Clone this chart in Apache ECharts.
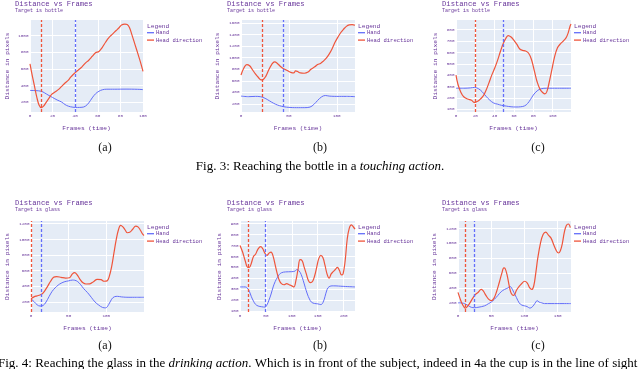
<!DOCTYPE html>
<html>
<head>
<meta charset="utf-8">
<script src="https://cdn.jsdelivr.net/npm/echarts@6/dist/echarts.min.js"></script>
<style>
  html, body { margin: 0; padding: 0; background: #fff; }
  #chart { width: 640px; height: 369px; }
</style>
</head>
<body>
<div id="chart"></div>
<script>
// --- data: [frame, distance] ---
const topAHand = [[0,340],[5,338],[10,330],[13,310],[16,285],[20,255],[24,225],[28,200],[31,170],[34,150],[38,138],[42,135],[46,137],[49,150],[52,190],[55,250],[58,300],[61,330],[64,348],[68,355],[75,355],[85,356],[95,354],[100,350]]
const topAHead = [[0,660],[2,520],[4,390],[6,260],[8,165],[10,132],[12,150],[14,190],[17,250],[19,290],[22,320],[25,350],[28,390],[31,430],[34,465],[36,500],[38,530],[40,555],[43,590],[46,625],[49,670],[52,705],[55,750],[58,795],[61,810],[64,860],[67,925],[70,980],[73,1020],[76,1060],[79,1100],[81,1130],[84,1140],[86,1135],[88,1100],[90,1020],[93,890],[96,760],[98,670],[100,570]]

const topBHand = [[0,335],[8,325],[15,330],[20,325],[24,305],[28,270],[32,230],[36,195],[40,170],[45,150],[50,140],[58,135],[66,135],[72,145],[76,190],[80,260],[84,320],[88,345],[92,335],[100,330],[110,330],[119,325]]
const topBHead = [[0,700],[3,820],[6,880],[9,860],[12,790],[15,720],[18,660],[21,615],[23,620],[26,680],[29,790],[32,880],[35,925],[38,900],[41,850],[44,810],[48,780],[52,745],[55,735],[57,770],[59,760],[62,735],[66,730],[70,750],[73,800],[77,840],[80,880],[83,900],[86,940],[89,990],[92,1060],[95,1150],[98,1260],[101,1350],[104,1430],[107,1490],[110,1540],[113,1565],[116,1570],[119,1560]]

const topCHand = [[0,285],[8,285],[15,288],[19,292],[23,282],[27,255],[31,215],[35,180],[39,155],[43,145],[47,135],[52,128],[57,122],[62,120],[67,122],[71,130],[74,150],[77,185],[80,225],[84,262],[88,280],[94,285],[105,285],[119,285]]
const topCHead = [[0,400],[2,320],[5,250],[8,210],[12,190],[16,180],[19,160],[21,165],[24,180],[28,215],[31,265],[34,330],[37,400],[40,460],[43,530],[46,610],[49,680],[52,730],[54,748],[57,735],[60,705],[63,670],[66,630],[69,618],[72,612],[75,595],[78,540],[81,440],[84,340],[87,275],[90,245],[92,235],[94,255],[96,320],[99,440],[102,560],[105,640],[108,675],[111,700],[114,730],[116,770],[118,830],[119,850]]

const botAHand = [[0,240],[4,205],[8,165],[12,148],[16,155],[20,200],[24,270],[28,335],[32,380],[36,415],[40,440],[45,460],[50,470],[55,480],[58,478],[62,460],[66,420],[70,370],[75,320],[80,260],[85,200],[90,160],[95,130],[99,125],[103,165],[107,235],[111,268],[115,272],[120,265],[130,260],[140,260],[150,260]]
const botAHead = [[0,240],[4,265],[8,278],[12,290],[15,305],[18,340],[22,400],[26,465],[30,515],[34,525],[40,515],[46,505],[51,510],[55,560],[58,575],[61,550],[65,490],[69,445],[73,430],[78,432],[83,460],[88,490],[93,485],[97,465],[101,470],[104,530],[107,650],[110,820],[113,990],[116,1120],[119,1180],[122,1160],[125,1120],[128,1085],[131,1090],[135,1130],[139,1170],[142,1160],[145,1120],[148,1070],[150,1050]]

const botBHand = [[0,320],[10,320],[14,310],[18,280],[22,230],[26,190],[30,160],[35,145],[42,138],[48,135],[52,155],[56,200],[60,255],[64,320],[68,370],[72,405],[76,435],[80,450],[88,458],[100,460],[106,465],[110,480],[114,468],[118,435],[122,380],[126,315],[130,255],[134,210],[138,180],[144,168],[150,165],[156,158],[160,175],[164,230],[168,295],[172,322],[180,330],[200,325],[222,320]]
const botBHead = [[0,700],[5,640],[10,560],[15,500],[18,500],[22,540],[26,600],[30,620],[35,670],[40,690],[44,670],[48,630],[52,610],[56,630],[60,640],[64,600],[68,520],[72,440],[76,380],[80,350],[85,340],[90,350],[95,340],[100,330],[104,320],[108,380],[112,480],[116,570],[120,560],[124,500],[128,440],[132,380],[136,360],[140,370],[144,420],[148,500],[152,580],[156,610],[160,590],[164,520],[168,440],[172,400],[176,440],[180,460],[184,480],[188,500],[192,470],[196,430],[199,440],[203,560],[207,760],[211,860],[215,890],[219,870],[222,850]]

const botCHand = [[0,200],[8,195],[12,180],[16,160],[20,140],[25,135],[30,140],[40,160],[46,190],[50,210],[55,250],[60,300],[65,350],[70,380],[75,400],[78,420],[80,410],[84,340],[88,270],[92,200],[96,170],[100,160],[104,150],[108,130],[111,140],[114,170],[117,210],[119,230],[122,210],[126,200],[130,190],[140,190],[150,190],[170,190]]
const botCHead = [[0,340],[3,260],[6,190],[9,145],[11,130],[14,150],[18,200],[22,260],[26,310],[30,340],[35,380],[38,360],[42,300],[46,250],[50,230],[54,260],[58,350],[62,470],[66,600],[69,670],[71,660],[74,570],[77,430],[80,330],[84,300],[88,370],[92,420],[96,460],[100,490],[104,470],[108,400],[111,380],[114,430],[117,600],[120,800],[124,1000],[128,1120],[132,1150],[136,1110],[140,1070],[144,980],[148,900],[151,870],[154,900],[157,1000],[160,1150],[163,1240],[166,1260],[169,1210]]

// frames where the dashed markers sit: [red, blue]
const markFrames = [[10, 40], [22, 44], [20, 49], [0, 14], [15, 48], [11, 24]]
const targets = ['bottle', 'bottle', 'bottle', 'glass', 'glass', 'glass']
const xTicks = [[0,20,40,60,80,100], [0,50,100], [0,20,40,60,80,100], [0,50,100], [0,50,100,150,200], [0,50,100,150]]
const yTicks = [[200,400,600,800,1000], [200,400,600,800,1000,1200,1400,1600], [100,200,300,400,500,600,700,800],
  [200,400,600,800,1000,1200], [100,200,300,400,500,600,700,800,900], [200,400,600,800,1000,1200]]
const xRanges = [[0,100], [0,119], [0,119], [0,150], [0,222], [0,170]]
const yRanges = [[80,1190], [60,1650], [76,885], [72,1235], [90,925], [77,1300]]
const handData = [topAHand, topBHand, topCHand, botAHand, botBHand, botCHand]
const headData = [topAHead, topBHead, topCHead, botAHead, botBHead, botCHead]

// layout of each panel
const panels = [
  { left: 30,  top: 20,  width: 113, height: 92, titleX: 15,  yGap: 20, legendX: 147 },
  { left: 241, top: 20,  width: 114, height: 92, titleX: 227, yGap: 21, legendX: 358 },
  { left: 456, top: 20,  width: 115, height: 92, titleX: 442, yGap: 18, legendX: 574 },
  { left: 31,  top: 221, width: 113, height: 91, titleX: 15,  yGap: 21, legendX: 147 },
  { left: 240, top: 221, width: 115, height: 91, titleX: 227, yGap: 18, legendX: 358 },
  { left: 458, top: 221, width: 113, height: 91, titleX: 442, yGap: 21, legendX: 574 },
]

const MONO = 'Liberation Mono, monospace'
const SERIF = 'Liberation Serif, serif'
const PURPLE = '#663399'
const HAND = '#636efa'
const HEAD = '#ef553b'

const chart = echarts.init(document.getElementById('chart'), null, { renderer: 'canvas' })

const grids = [], xAxes = [], yAxes = [], series = [], titles = [], legends = [], graphics = []
const plain = v => String(v)

panels.forEach((p, i) => {
  grids.push({
    left: p.left, top: p.top, width: p.width, height: p.height,
    show: true, backgroundColor: '#e5ecf6', borderWidth: 0,
  })
  xAxes.push({
    type: 'value', gridIndex: i, min: xRanges[i][0], max: xRanges[i][1],
    axisLine: { show: false },
    axisTick: { show: false, customValues: xTicks[i] },
    axisLabel: { customValues: xTicks[i], formatter: plain, fontSize: 4.3, color: PURPLE, fontFamily: MONO, margin: 2 },
    splitLine: { show: true, lineStyle: { color: '#fff', width: 1 } },
    name: 'Frames (time)', nameLocation: 'middle', nameGap: 13.5,
    nameTextStyle: { fontSize: 6.2, color: PURPLE, fontFamily: MONO },
  })
  yAxes.push({
    type: 'value', gridIndex: i, min: yRanges[i][0], max: yRanges[i][1],
    axisLine: { show: false },
    axisTick: { show: false, customValues: yTicks[i] },
    axisLabel: { customValues: yTicks[i], formatter: plain, fontSize: 4.3, color: PURPLE, fontFamily: MONO, margin: 1.5 },
    splitLine: { show: true, lineStyle: { color: '#fff', width: 1 } },
    name: 'Distance in pixels', nameLocation: 'middle', nameGap: p.yGap,
    nameTextStyle: { fontSize: 6.2, color: PURPLE, fontFamily: MONO },
  })

  const dashed = (frame, color) => ({
    silent: true, symbol: ['none', 'none'], label: { show: false },
    lineStyle: { color, type: [3, 2], width: 1.3 },
    data: [{ xAxis: frame }],
  })
  series.push({
    name: 'Hand', type: 'line', xAxisIndex: i, yAxisIndex: i,
    data: handData[i], showSymbol: false, smooth: 0.4,
    lineStyle: { width: 1, color: HAND }, itemStyle: { color: HAND },
    markLine: dashed(markFrames[i][1], HAND), z: 2,
  })
  series.push({
    name: 'Head direction', type: 'line', xAxisIndex: i, yAxisIndex: i,
    data: headData[i], showSymbol: false, smooth: 0.4,
    lineStyle: { width: 1.2, color: HEAD }, itemStyle: { color: HEAD },
    markLine: dashed(markFrames[i][0], HEAD), z: 3,
  })

  const titleTop = i < 3 ? 0.4 : 199.7
  titles.push({
    left: p.titleX, top: titleTop, padding: 0, itemGap: 0.3,
    text: 'Distance vs Frames', subtext: 'Target is ' + targets[i],
    textStyle: { fontSize: 7.2, fontWeight: 'normal', color: PURPLE, fontFamily: MONO },
    subtextStyle: { fontSize: 5, color: PURPLE, fontFamily: MONO },
  })

  const legTop = i < 3 ? 26 : 227
  graphics.push({
    type: 'text', x: p.legendX, y: legTop,
    style: { text: 'Legend', fontSize: 6.2, fontFamily: MONO, fill: PURPLE, textVerticalAlign: 'middle', verticalAlign: 'middle' },
  })
  legends.push({
    left: p.legendX, top: legTop + 3.7, orient: 'vertical', padding: 0,
    icon: 'rect', itemWidth: 7, itemHeight: 1.3, itemGap: 1.4,
    selectedMode: false, data: ['Hand', 'Head direction'],
    textStyle: { fontSize: 5.5, color: PURPLE, fontFamily: MONO, padding: [0, 0, 0, -3] },
  })
})

// sub-figure letters and figure captions
const letters = ['(a)', '(b)', '(c)']
const letterX = [105, 320, 538]
const letterStyle = t => ({ text: t, fontSize: 12, fontFamily: SERIF, fill: '#111',
  textAlign: 'center', align: 'center', textVerticalAlign: 'middle', verticalAlign: 'middle' })
letters.forEach((t, k) => {
  graphics.push({ type: 'text', x: letterX[k], y: 148, style: letterStyle(t) })
  graphics.push({ type: 'text', x: letterX[k], y: 346, style: letterStyle(t) })
})
const captionRich = {
  n: { fontSize: 13, fontFamily: SERIF, color: '#111' },
  i: { fontSize: 13, fontFamily: SERIF, fontStyle: 'italic', color: '#111' },
}
graphics.push({
  type: 'text', x: 320, y: 167,
  style: { text: '{n|Fig. 3: Reaching the bottle in a }{i|touching action}{n|.}', rich: captionRich,
    textAlign: 'center', align: 'center', textVerticalAlign: 'middle', verticalAlign: 'middle' },
})
graphics.push({
  type: 'text', x: -2, y: 364,
  style: { text: '{n|Fig. 4: Reaching the glass in the }{i|drinking action}{n|. Which is in front of the subject, indeed in 4a the cup is in the line of sight}', rich: captionRich,
    textAlign: 'left', align: 'left', textVerticalAlign: 'middle', verticalAlign: 'middle' },
})

chart.setOption({
  animation: false,
  backgroundColor: '#fff',
  title: titles,
  legend: legends,
  grid: grids,
  xAxis: xAxes,
  yAxis: yAxes,
  series: series,
  graphic: graphics,
})
</script>
</body>
</html>
